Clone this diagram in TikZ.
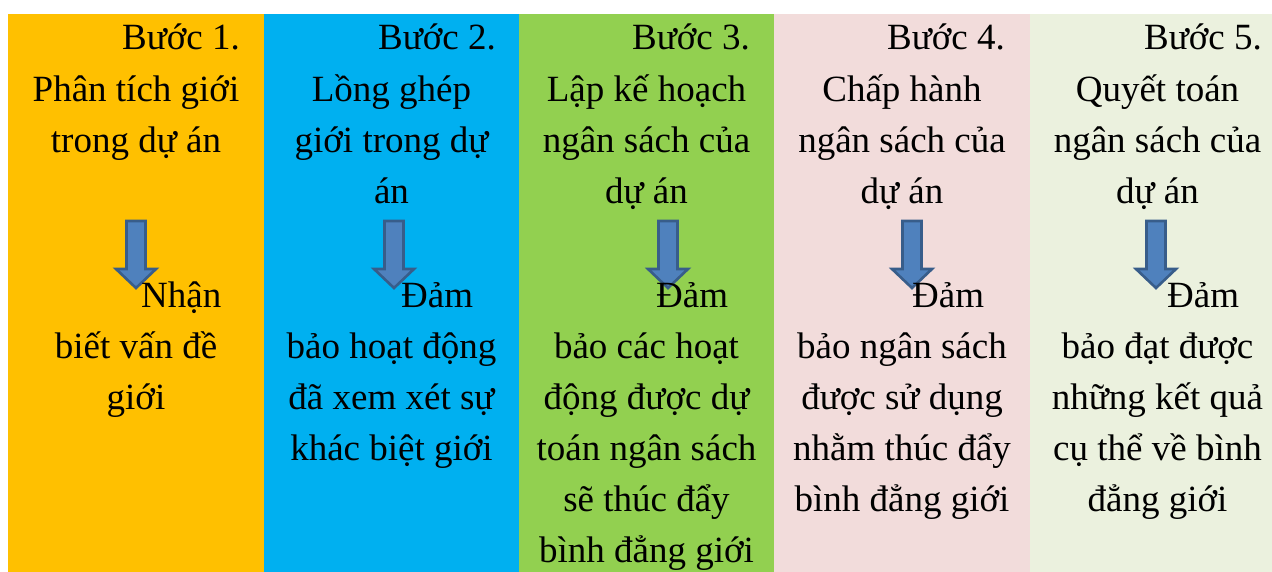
\documentclass[tikz,border=0pt]{standalone}
\usepackage{fontspec}
\setmainfont{Liberation Serif}
\definecolor{cYellow}{HTML}{FFC000}
\definecolor{cBlue}{HTML}{00B0F0}
\definecolor{cGreen}{HTML}{92D050}
\definecolor{cPink}{HTML}{F2DCDB}
\definecolor{cPale}{HTML}{EBF1DE}
\definecolor{arrFill}{HTML}{4F81BD}
\definecolor{arrEdge}{HTML}{385D8A}
\tikzset{
  txt/.style={inner sep=0pt, font=\fontsize{37}{44}\selectfont, anchor=base},
  head/.style={txt, anchor=base east},
  lead/.style={txt, anchor=base west},
  downarrow/.style={fill=arrFill, draw=arrEdge, line width=2.6pt, line join=miter},
}
% block arrow pointing down, centred at x = #1
\newcommand{\downblock}[1]{%
  \draw[downarrow] (#1-9.5,221) -- (#1+9.5,221) -- (#1+9.5,269) -- (#1+20,269)
    -- (#1,288) -- (#1-20,269) -- (#1-9.5,269) -- cycle;}
\begin{document}
\begin{tikzpicture}[x=1pt,y=-1pt]
\useasboundingbox (0,0) rectangle (1272,572);
% column backgrounds
\fill[cYellow] (8,14) rectangle (264,572);
\fill[cBlue]   (264,14) rectangle (519,572);
\fill[cGreen]  (519,14) rectangle (774,572);
\fill[cPink]   (774,14) rectangle (1030,572);
\fill[cPale]   (1030,14) rectangle (1272,572);

% arrows
\downblock{136}
\downblock{394}
\downblock{668}
\downblock{912}
\downblock{1156}

% column 1
\node[head] (s1) at (240,50) {Bước 1.};
\node[txt] (a1) at (136,102) {Phân tích giới};
\node[txt] (a2) at (136,153) {trong dự án};
\node[lead] (a3) at (141,307) {Nhận};
\node[txt] (a4) at (136,358) {biết vấn đề};
\node[txt] (a5) at (136,409) {giới};

% column 2
\node[head] (s2) at (496,50) {Bước 2.};
\node[txt] (b1) at (391.5,102) {Lồng ghép};
\node[txt] (b2) at (391.5,153) {giới trong dự};
\node[txt] (b3) at (391.5,204) {án};
\node[lead] (b4) at (401,307) {Đảm};
\node[txt] (b5) at (391.5,358) {bảo hoạt động};
\node[txt] (b6) at (391.5,409) {đã xem xét sự};
\node[txt] (b7) at (391.5,460) {khác biệt giới};

% column 3
\node[head] (s3) at (750,50) {Bước 3.};
\node[txt] (c1) at (646.5,102) {Lập kế hoạch};
\node[txt] (c2) at (646.5,153) {ngân sách của};
\node[txt] (c3) at (646.5,204) {dự án};
\node[lead] (c4) at (656,307) {Đảm};
\node[txt] (c5) at (646.5,358) {bảo các hoạt};
\node[txt] (c6) at (646.5,409) {động được dự};
\node[txt] (c7) at (646.5,460) {toán ngân sách};
\node[txt] (c8) at (646.5,511) {sẽ thúc đẩy};
\node[txt] (c9) at (646.5,562) {bình đẳng giới};

% column 4
\node[head] (s4) at (1005,50) {Bước 4.};
\node[txt] (d1) at (902,102) {Chấp hành};
\node[txt] (d2) at (902,153) {ngân sách của};
\node[txt] (d3) at (902,204) {dự án};
\node[lead] (d4) at (912,307) {Đảm};
\node[txt] (d5) at (902,358) {bảo ngân sách};
\node[txt] (d6) at (902,409) {được sử dụng};
\node[txt] (d7) at (902,460) {nhằm thúc đẩy};
\node[txt] (d8) at (902,511) {bình đẳng giới};

% column 5
\node[head] (s5) at (1262,50) {Bước 5.};
\node[txt] (e1) at (1157.5,102) {Quyết toán};
\node[txt] (e2) at (1157.5,153) {ngân sách của};
\node[txt] (e3) at (1157.5,204) {dự án};
\node[lead] (e4) at (1167,307) {Đảm};
\node[txt] (e5) at (1157.5,358) {bảo đạt được};
\node[txt] (e6) at (1157.5,409) {những kết quả};
\node[txt] (e7) at (1157.5,460) {cụ thể về bình};
\node[txt] (e8) at (1157.5,511) {đẳng giới};
\end{tikzpicture}
\end{document}
